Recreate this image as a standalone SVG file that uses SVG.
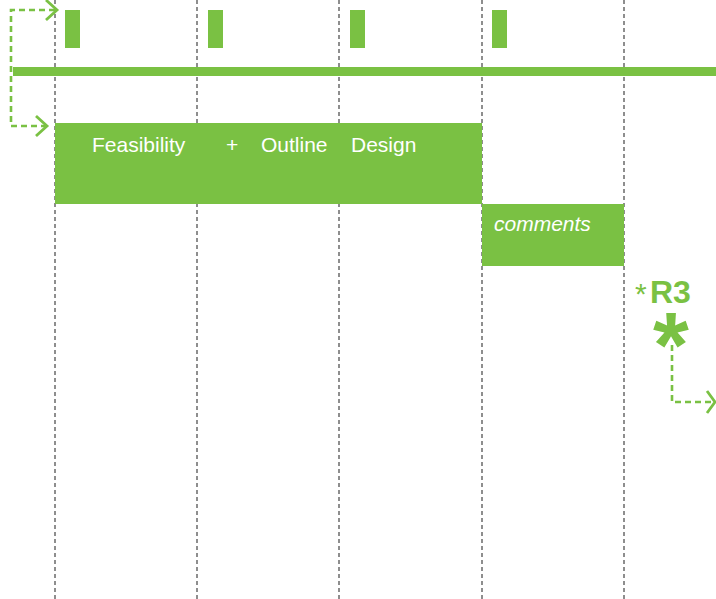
<svg xmlns="http://www.w3.org/2000/svg" width="716" height="599" viewBox="0 0 716 599">
<style>
.grid{stroke:#444;stroke-width:1.2;stroke-dasharray:4 3;fill:none}
.g{fill:#7AC143}
.flow{stroke:#7AC143;stroke-width:2.6;stroke-dasharray:6 4;fill:none}
.head{stroke:#7AC143;stroke-width:2.8;fill:none}
.lbl{font-family:"Liberation Sans",Arial,sans-serif;font-size:21px;fill:#fff}
.r3{font-family:"Liberation Sans",Arial,sans-serif;fill:#7AC143}
</style>
<rect width="716" height="599" fill="#fff"/>
<g id="grid">
<line class="grid" x1="55" y1="0" x2="55" y2="599"/>
<line class="grid" x1="197" y1="0" x2="197" y2="599"/>
<line class="grid" x1="339" y1="0" x2="339" y2="599"/>
<line class="grid" x1="482" y1="0" x2="482" y2="599"/>
<line class="grid" x1="624" y1="0" x2="624" y2="599"/>
</g>
<g id="markers">
<rect class="g" x="65" y="10" width="15" height="38"/>
<rect class="g" x="208" y="10" width="15" height="38"/>
<rect class="g" x="350" y="10" width="15" height="38"/>
<rect class="g" x="492" y="10" width="15" height="38"/>
</g>
<g id="timeline">
<rect class="g" x="13" y="67" width="703" height="9"/>
</g>
<g id="stage">
<rect class="g" x="55" y="123" width="427" height="81"/>
<text class="lbl" x="92" y="152">Feasibility</text>
<text class="lbl" x="226" y="152">+</text>
<text class="lbl" x="261" y="152">Outline</text>
<text class="lbl" x="351" y="152">Design</text>
</g>
<g id="comments">
<rect class="g" x="482" y="204" width="142" height="62"/>
<text class="lbl" x="494" y="231" font-style="italic">comments</text>
</g>
<g id="r3">
<text class="r3" x="635" y="304" font-size="30">*</text>
<text class="r3" x="650" y="303" font-size="32" font-weight="bold">R3</text>
<text class="r3" x="653" y="377" font-size="92" font-weight="bold">*</text>
</g>
<g id="connectors">
<path class="flow" d="M55 10 H11 V126 H45"/>
<path class="head" d="M46 0 L57 10 L46 20"/>
<path class="head" d="M36 116 L47 126 L36 136"/>
<path class="flow" d="M672 345 V402 H712"/>
<path class="head" d="M707 391 L715 402 L707 413"/>
</g>
</svg>
